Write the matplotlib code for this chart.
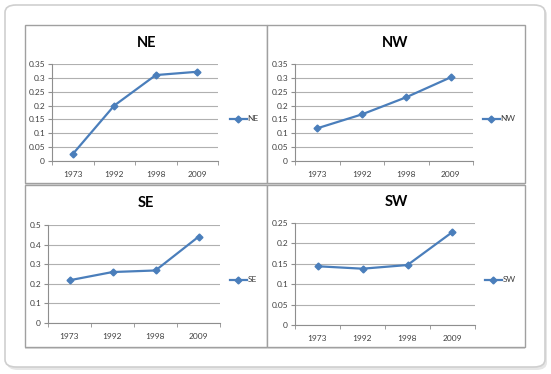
import matplotlib
matplotlib.use("Agg")
import matplotlib.pyplot as plt
from matplotlib.patches import FancyBboxPatch, Rectangle

plt.rcParams['font.family'] = ['Lato', 'DejaVu Sans']

years = ["1973", "1992", "1998", "2009"]
ne = [0.025, 0.200, 0.310, 0.322]
nw = [0.118, 0.168, 0.230, 0.302]
se = [0.218, 0.260, 0.268, 0.440]
sw = [0.144, 0.138, 0.147, 0.228]

W, H = 551, 374
fig = plt.figure(figsize=(W / 100, H / 100), dpi=100)
fig.patch.set_facecolor("white")


def rect(x0, y0, x1, y1):
    # pixel box -> figure fraction
    return [x0 / W, 1 - y1 / H, (x1 - x0) / W, (y1 - y0) / H]


# outer rounded frame with a soft shadow
shadow = FancyBboxPatch((7 / W, 1 - 370 / H), 540 / W, 363 / H,
                        boxstyle="round,pad=0,rounding_size=0.02",
                        transform=fig.transFigure, facecolor="#e6e6e6",
                        edgecolor="none", zorder=0)
frame = FancyBboxPatch((5 / W, 1 - 367 / H), 540 / W, 362 / H,
                       boxstyle="round,pad=0,rounding_size=0.02",
                       transform=fig.transFigure, facecolor="white",
                       edgecolor="#cfcfcf", linewidth=1.2, zorder=0)
fig.patches.extend([shadow, frame])

panels = [
    ("NE", ne, 0.35, 0.05, (25, 25, 267, 183), (52, 64, 218, 161), (147, 43), (230, 119)),
    ("NW", nw, 0.35, 0.05, (267, 25, 525, 183), (295, 64, 473, 161), (395, 43), (483, 119)),
    ("SE", se, 0.5, 0.1, (25, 185, 267, 347), (48, 225, 220, 323), (146, 203), (230, 280)),
    ("SW", sw, 0.25, 0.05, (267, 185, 525, 347), (295, 223, 475, 325), (396, 202), (485, 280)),
]

blue = "#4a7ebb"
grid = "#b0b0b0"
axis_col = "#8e8e8e"

for name, vals, ymax, step, box, plot, tpos, lpos in panels:
    # panel shadow line + border
    fig.patches.append(Rectangle((box[0] / W, 1 - (box[3] + 2) / H), (box[2] - box[0]) / W,
                                 2 / H, transform=fig.transFigure,
                                 facecolor="#dcdcdc", edgecolor="none", zorder=1))
    fig.patches.append(Rectangle((box[0] / W, 1 - box[3] / H), (box[2] - box[0]) / W,
                                 (box[3] - box[1]) / H, transform=fig.transFigure,
                                 facecolor="white", edgecolor="#a0a0a0",
                                 linewidth=1.0, zorder=1))
    ax = fig.add_axes(rect(*plot))
    ax.set_zorder(2)
    ax.patch.set_alpha(0)
    x = list(range(len(years)))
    ax.plot(x, vals, color=blue, linewidth=1.6, marker="D", markersize=3.5,
            label=name, zorder=3)
    ax.set_xlim(-0.5, 3.5)
    ax.set_ylim(0, ymax)
    n = int(round(ymax / step))
    yt = [round(i * step, 2) for i in range(n + 1)]
    ax.set_yticks(yt)
    ax.set_yticklabels(["0" if v == 0 else ("%g" % v) for v in yt], fontsize=6, color="#404040")
    ax.set_xticks(x)
    ax.set_xticklabels(years, fontsize=6, color="#404040")
    ax.set_xticks([-0.5, 0.5, 1.5, 2.5, 3.5], minor=True)
    ax.tick_params(axis="x", which="major", length=0, pad=7)
    ax.tick_params(axis="x", which="minor", length=3, color=axis_col, direction="out")
    ax.tick_params(axis="y", length=3, color=axis_col, pad=2)
    ax.yaxis.grid(True, color=grid, linewidth=0.8)
    ax.set_axisbelow(True)
    for s in ["top", "right"]:
        ax.spines[s].set_visible(False)
    for s in ["left", "bottom"]:
        ax.spines[s].set_color(axis_col)
        ax.spines[s].set_linewidth(0.8)
    fig.text(tpos[0] / W, 1 - tpos[1] / H, name, fontsize=10.5, fontweight="bold",
             ha="center", va="center", color="black")
    ax.legend(loc="center left", bbox_to_anchor=(lpos[0] / W, 1 - lpos[1] / H),
              bbox_transform=fig.transFigure, frameon=False, fontsize=6,
              handlelength=2.0, handletextpad=0.1, borderpad=0, borderaxespad=0,
              labelcolor="#404040")

fig.savefig("out.png", dpi=100)
